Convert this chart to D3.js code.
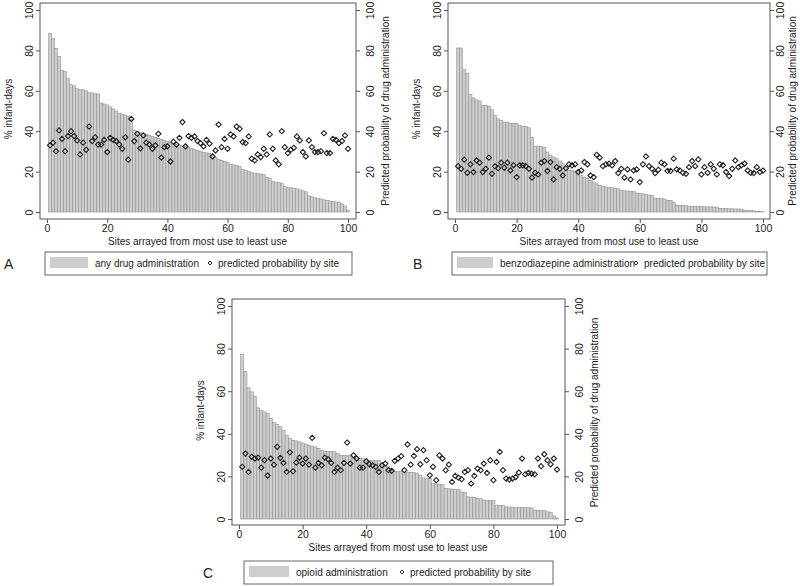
<!DOCTYPE html>
<html><head><meta charset="utf-8">
<script src="https://cdn.jsdelivr.net/npm/d3@7"></script>
<style>body{margin:0;background:#fff}svg{display:block}text{font-family:"Liberation Sans",Arial,sans-serif;fill:#222}</style>
</head><body><svg id="c" width="800" height="586"></svg>
<script>
const sites = d3.range(1, 101);
const xTicks = [0, 20, 40, 60, 80, 100];
const yTicks = [0, 20, 40, 60, 80, 100];
const xTitle = "Sites arrayed from most use to least use";
const yTitleLeft = "% infant-days";
const yTitleRight = "Predicted probability of drug administration";
const pointLabel = "predicted probability by site";

const barsA = [88.5,86,81,77,70,69.5,66,63,62.5,61,60.5,60.5,60,59,59,58.5,58.5,54,53.5,53,52,51,50,49,48.5,48,47.5,46,40.5,40,39.5,39,38.5,38,37.5,37,36.5,36,35.5,35,34.5,34,33.5,33,32.7,32.4,32,31.5,31,30.5,30,29.6,29.3,29,28,27,26,25.5,25,24.5,23.5,23.3,23,22.5,21,20.5,20,19.5,19,19,18.8,18.5,17,16.5,15,14.8,14.5,14.3,12.5,12,12,11.8,11.5,11,10.5,10,8,7.5,7,6.8,6.5,6,5.8,5.5,5.2,5,4.8,4,3,0.8];
const pointsA = [33,34.3,30.1,40.4,36.2,30.1,37.6,40,37.6,35.4,28.5,34.3,30.8,42.3,35.1,37,33.4,33.4,35.7,29.7,36.7,35.7,35.1,33.4,31.3,37,25.9,46.1,35.1,38.7,31.5,37.9,34.3,33.4,31.3,33,38.7,26.9,32.1,32.5,25,34.8,33.4,36.7,44.5,32.5,37.6,36.7,37.4,35.1,34.1,32.5,35.7,33.8,27.5,30.5,43.3,32.1,36.2,31.3,38.4,37.4,42.3,41.2,34.6,34.1,37.4,26.4,25.5,28.5,27.2,31.3,28.5,38.4,31.3,25.5,23.6,40,32.1,29.2,30.8,31.8,37.4,35.4,29.7,27.5,35.4,32.1,29.7,29.7,30.1,39,29.2,29.2,36.2,35.7,34.1,35.1,37.9,31.3];

const barsB = [81.2,81.2,70.5,68.7,58.2,56.5,55.5,55,52.7,52.7,52.2,50.6,47.8,46.1,45.3,44.5,44.5,44,44,43.8,42.8,42.3,42.3,41.7,37,32.6,32.6,32.4,32.1,29.7,28,27.2,26.4,25.2,23.9,22.2,20.6,20.6,20.3,19.8,18.1,17.3,16.5,15.7,14.8,14,13.2,12.8,12.4,12.2,12,11.7,11.5,10.6,10.5,10.4,10.3,10.2,9.4,9.2,9,8.6,8.4,8.2,6.8,6.7,6.6,6.4,5.8,5.6,4.9,3.4,3.3,3.2,3.1,2.9,2.8,2.8,2.7,2.7,2.6,2.6,2.5,2.5,2.4,1.8,1.7,1.7,1.6,1.6,1.5,1.5,1.4,0.9,0.8,0.7,0.6,0.3,0.2,0.1];
const pointsB = [22.7,21.4,25.9,19.4,23.6,19.8,25.5,24.4,19.8,21.4,26.9,18.9,22.6,21.7,24.4,21.9,24.4,20.6,23.2,17.3,23.1,23.1,22.7,21.4,17,19.4,18.6,24.4,25.2,20.3,24.7,16.1,22.2,21.4,18.1,21.7,23.6,23.1,23.6,19.8,20.6,24.7,23.6,18.1,17.3,28.3,26.9,22.7,23.6,23.9,23.1,25.2,19.3,21.4,17,21.1,16.1,20.6,21.1,14.8,23.6,27.5,22.7,21.4,19.3,20.9,24.4,23.6,20.3,20.3,26.4,21.1,20.6,19.4,18.9,22.2,25.2,22.7,26,18.6,22.2,19.4,23.6,21.4,18.6,23.6,23.1,19.8,17.8,21.4,25.5,22.2,23.1,24,20.6,19.4,19.3,22.2,19.8,20.5];

const barsC = [77.4,69.4,61.6,59.7,57.7,52.2,51.1,50.3,49.5,47.2,45.3,44.4,43.3,41.7,39.3,37.8,37,36.7,36.2,35.7,35.1,34.6,34.2,33.9,33.1,32.3,31.8,31.8,31.7,31.6,30.7,29.9,29.9,29.8,29.7,29.2,28.4,28.4,28.3,28.2,27.6,27.6,27.5,27.4,26.3,25.2,24.5,22.9,22.4,22.3,22.2,22.1,22,21.9,21.8,21.6,20.5,19.3,19.2,19.1,16.6,16.5,16.4,16.2,14.3,14.2,14.1,14,13.9,12.7,12.6,10.4,10.3,10.2,9.6,9.5,8.9,8.8,8.7,8.6,6.5,6.4,6.3,5.7,5.6,5.6,5.5,5.5,5.4,5.4,5.3,5.2,4.2,4.1,4,3.9,3.4,3.2,1.5,0.5];
const pointsC = [24.5,30.7,22.1,29.2,28.4,28.8,24.1,27.6,20.4,28.4,25.5,33.9,28.7,26.3,22.1,31.3,22.4,26.5,28.8,26,28.4,25.5,38.1,24.1,26.3,25.2,28.8,28.1,26.3,22.1,24.1,22.9,26.3,35.9,26,29.9,28.4,24.1,24.1,27.1,25.7,25.2,24.5,22.1,25.2,26,22.9,22.6,27.3,28.4,29.5,22.9,35,25.5,29.6,32.8,25.7,32.3,27.6,20.5,24.5,18.2,29.9,28.4,22.9,25.5,17.4,20.2,19.4,18.7,22.1,22.9,16.6,20.2,23.7,22.9,26,21.6,27.6,18.2,26.8,31.5,22.9,19,18.5,19,19.7,21.8,28.4,21,21.6,21.3,21,28.4,24.8,30.4,27.6,25.7,28.4,23.2];

const svg = d3.select("#c");
const FS = 10;

function panel(cfg, bars, points, barLabel, letter) {
  const g = svg.append("g");
  const x = d3.scaleLinear().domain([0, 100]).range([cfg.x0, cfg.x100]);
  const y = d3.scaleLinear().domain([0, 100]).range([cfg.y0, cfg.y100]);
  const bw = x(1) - x(0);
  g.selectAll("rect.bar").data(sites).join("rect")
    .attr("x", d => x(d) - bw / 2).attr("width", bw)
    .attr("y", (d, i) => y(bars[i])).attr("height", (d, i) => y(0) - y(bars[i]))
    .attr("fill", "#cdcdcd").attr("stroke", "#959595").attr("stroke-width", 0.6);
  const r = 2.6;
  g.selectAll("path.pt").data(sites).join("path")
    .attr("d", (d, i) => { const cx = x(d), cy = y(points[i]); return `M${cx},${cy - r}L${cx + r},${cy}L${cx},${cy + r}L${cx - r},${cy}Z`; })
    .attr("fill", "none").attr("stroke", "#222").attr("stroke-width", 1.1);
  g.append("rect").attr("x", cfg.bl).attr("y", cfg.bt).attr("width", cfg.br - cfg.bl).attr("height", cfg.bb - cfg.bt)
    .attr("fill", "none").attr("stroke", "#555").attr("stroke-width", 1);
  const xa = g.append("g").attr("transform", `translate(0,${cfg.bb})`)
    .call(d3.axisBottom(x).tickValues(xTicks).tickSize(4).tickPadding(2));
  const ya = g.append("g").attr("transform", `translate(${cfg.bl},0)`)
    .call(d3.axisLeft(y).tickValues(yTicks).tickSize(4));
  const yr = g.append("g").attr("transform", `translate(${cfg.br},0)`)
    .call(d3.axisRight(y).tickValues(yTicks).tickSize(4));
  [xa, ya, yr].forEach(a => { a.select(".domain").remove(); a.selectAll("line").attr("stroke", "#555"); a.selectAll("text").attr("font-size", FS + 0.5).attr("fill", "#222").style("font-family", '"Liberation Sans",Arial,sans-serif'); });
  ya.selectAll(".tick text").attr("transform", "rotate(-90)").attr("x", 0).attr("y", -7).attr("dy", 0).attr("text-anchor", "middle");
  yr.selectAll(".tick text").attr("transform", "rotate(-90)").attr("x", 0).attr("y", cfg.rl).attr("dy", 0).attr("text-anchor", "middle");
  xa.selectAll(".tick text").attr("dy", "0.71em");
  g.append("text").attr("x", (cfg.x0 + cfg.x100) / 2).attr("y", cfg.bb + 26).attr("text-anchor", "middle").attr("font-size", FS).text(xTitle);
  g.append("text").attr("transform", `translate(${cfg.bl - 28},${(cfg.y0 + cfg.y100) / 2 - 2}) rotate(-90)`).attr("text-anchor", "middle").attr("font-size", FS).text(yTitleLeft);
  g.append("text").attr("transform", `translate(${cfg.br + cfg.rt},${(cfg.y0 + cfg.y100) / 2}) rotate(-90)`).attr("text-anchor", "middle").attr("font-size", FS).text(yTitleRight);
  const L = cfg.leg;
  g.append("rect").attr("x", L.x).attr("y", L.y).attr("width", L.w).attr("height", 23).attr("fill", "#fff").attr("stroke", "#666").attr("stroke-width", 1);
  g.append("rect").attr("x", L.x + 5).attr("y", L.y + 5).attr("width", L.sw).attr("height", 11).attr("fill", "#cdcdcd");
  g.append("text").attr("x", L.x + L.sw + 12).attr("y", L.y + 15).attr("font-size", FS).text(barLabel);
  const dx = L.dx, dy = L.y + 11, rr = 2;
  g.append("path").attr("d", `M${dx},${dy - rr}L${dx + rr},${dy}L${dx},${dy + rr}L${dx - rr},${dy}Z`).attr("fill", "none").attr("stroke", "#222").attr("stroke-width", 1);
  g.append("text").attr("x", dx + 8).attr("y", L.y + 15).attr("font-size", FS).text(pointLabel);
  g.append("text").attr("x", cfg.lx).attr("y", L.y + 17).attr("font-size", 14).text(letter);
}

panel({x0: 47, x100: 348, y0: 212, y100: 10, bl: 40, br: 356, bt: 3, bb: 219, rl: 18, rt: 33,
  leg: {x: 45, y: 252, w: 307, sw: 38, dx: 210}, lx: 4}, barsA, pointsA, "any drug administration", "A");
panel({x0: 455, x100: 763, y0: 212, y100: 10, bl: 448, br: 770, bt: 3, bb: 219, rl: 14, rt: 26,
  leg: {x: 452, y: 252, w: 315, sw: 36, dx: 636}, lx: 413}, barsB, pointsB, "benzodiazepine administration", "B");
panel({x0: 239, x100: 557, y0: 519, y100: 306, bl: 232, br: 565, bt: 299, bb: 525, rl: 18, rt: 33,
  leg: {x: 244, y: 561, w: 309, sw: 40, dx: 402}, lx: 203}, barsC, pointsC, "opioid administration", "C");
</script></body></html>
